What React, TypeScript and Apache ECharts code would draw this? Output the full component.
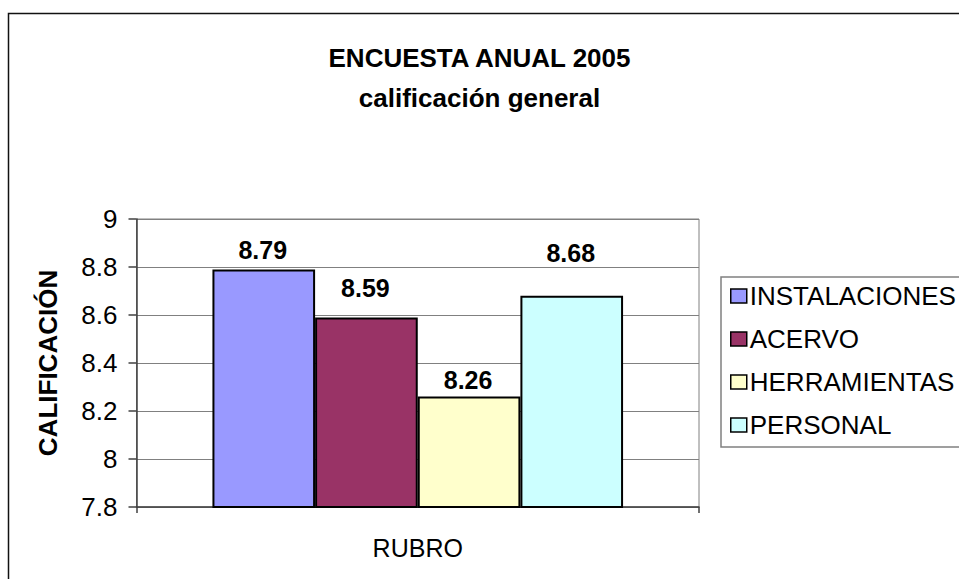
import React, { useEffect, useRef } from "react";
import * as echarts from "echarts";

const categories = ["RUBRO"];
const seriesNames = ["INSTALACIONES", "ACERVO", "HERRAMIENTAS", "PERSONAL"];
const seriesValues = [8.79, 8.59, 8.26, 8.68];
const seriesColors = ["#9999FF", "#993366", "#FFFFCC", "#CCFFFF"];
const yTicks = { min: 7.8, max: 9, interval: 0.2 };
// extra vertical shift of each data label (manually placed in the original)
const labelShift = [0, -10, 3, -23];

const FONT = "'Liberation Sans', Arial, sans-serif";

export default function App() {
  const ref = useRef<HTMLDivElement>(null);
  useEffect(() => {
    if (!ref.current) return;
    const chart = echarts.init(ref.current, undefined, { renderer: "svg" });
    chart.setOption({
      animation: false,
      backgroundColor: "#ffffff",
      textStyle: { fontFamily: FONT },
      title: {
        text: "ENCUESTA ANUAL 2005\ncalificación general",
        left: "center",
        top: 33,
        textStyle: {
          fontFamily: FONT,
          fontSize: 26,
          fontWeight: "bold",
          color: "#000",
          lineHeight: 40,
        },
      },
      graphic: [
        {
          type: "rect",
          shape: { x: 8.5, y: 13.5, width: 1200, height: 1000 },
          style: { fill: "none", stroke: "#111", lineWidth: 1.5 },
          silent: true,
          z: 100,
        },
      ],
      legend: {
        orient: "vertical",
        left: 721,
        top: 277,
        padding: [6, 12, 9, 9],
        borderColor: "#808080",
        borderWidth: 1.5,
        backgroundColor: "#fff",
        itemWidth: 16,
        itemHeight: 14,
        itemGap: 17,
        icon: "rect",
        itemStyle: { borderColor: "#000", borderWidth: 1.5 },
        textStyle: { fontFamily: FONT, fontSize: 26, color: "#000", padding: [0, 0, 0, -2] },
        data: seriesNames,
      },
      grid: {
        left: 136.5,
        right: 260,
        top: 219,
        bottom: 72,
        show: true,
        borderColor: "#808080",
        borderWidth: 1,
        containLabel: false,
      },
      xAxis: {
        type: "category",
        data: categories,
        axisLine: { show: true, lineStyle: { color: "#404040", width: 1.5 } },
        axisTick: { show: true, length: 6, lineStyle: { color: "#404040", width: 1.5 } },
        axisLabel: { fontFamily: FONT, fontSize: 25, color: "#000", margin: 28 },
      },
      yAxis: {
        type: "value",
        min: yTicks.min,
        max: yTicks.max,
        interval: yTicks.interval,
        name: "CALIFICACIÓN",
        nameLocation: "middle",
        nameGap: 76,
        nameTextStyle: { fontFamily: FONT, fontSize: 26, fontWeight: "bold", color: "#000" },
        axisLine: { show: true, lineStyle: { color: "#404040", width: 1.5 } },
        axisTick: { show: true, length: 8, lineStyle: { color: "#404040", width: 1.5 } },
        axisLabel: { fontFamily: FONT, fontSize: 26, color: "#000", margin: 19 },
        splitLine: { show: true, lineStyle: { color: "#808080", width: 1 } },
      },
      series: seriesNames.map((name, i) => ({
        type: "bar",
        name,
        data: [seriesValues[i]],
        barGap: "0%",
        barCategoryGap: "27%",
        itemStyle: { color: seriesColors[i], borderColor: "#000", borderWidth: 2 },
        label: {
          show: true,
          position: "top",
          distance: 7,
          offset: [-1, labelShift[i]],
          fontFamily: FONT,
          fontSize: 25,
          fontWeight: "bold",
          color: "#000",
        },
      })),
    });
    return () => chart.dispose();
  }, []);
  return (
    <div
      ref={ref}
      style={{ position: "fixed", left: 0, top: 0, width: 959, height: 579 }}
    />
  );
}
